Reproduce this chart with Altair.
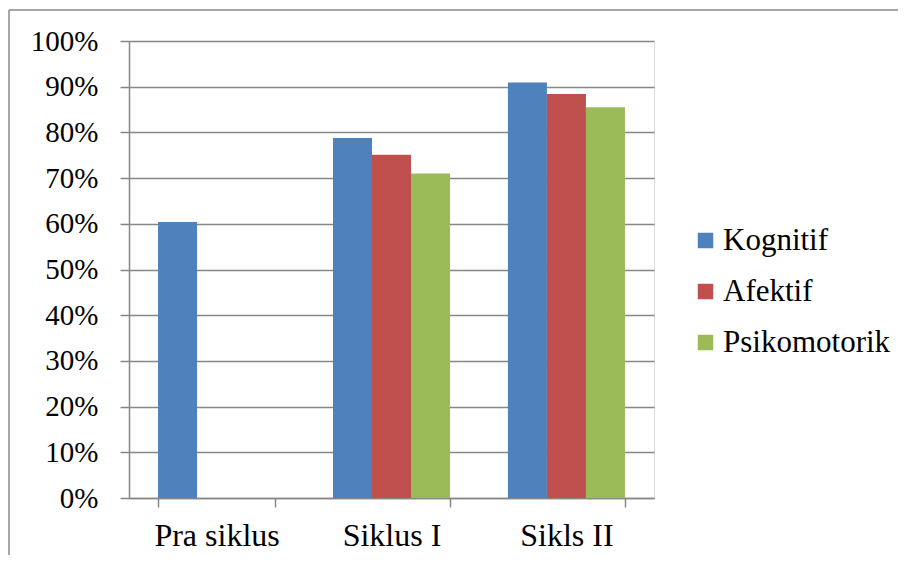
import altair as alt
import pandas as pd

categories = ["Pra siklus", "Siklus I", "Sikls II"]
series = ["Kognitif", "Afektif", "Psikomotorik"]
kognitif = [0.604, 0.788, 0.909]
afektif = [None, 0.751, 0.884]
psikomotorik = [None, 0.710, 0.855]
colors = ["#4F81BD", "#C0504D", "#9BBB59"]
y_ticks = [0, 0.1, 0.2, 0.3, 0.4, 0.5, 0.6, 0.7, 0.8, 0.9, 1.0]

rows = []
for name, vals in zip(series, [kognitif, afektif, psikomotorik]):
    for c, v in zip(categories, vals):
        if v is not None:
            rows.append({"Siklus": c, "Aspek": name, "Nilai": v})
df = pd.DataFrame(rows)

FONT = "Times New Roman, Liberation Serif, serif"
W, H = 525, 457
PL, PT = 121, 33

bars = alt.Chart(df).mark_bar().encode(
    x=alt.X("Siklus:N", sort=categories, title=None,
            scale=alt.Scale(paddingInner=0.331, paddingOuter=0.166),
            axis=alt.Axis(labelAngle=0, labelFont=FONT, labelFontSize=32,
                          labelColor="black", tickBand="extent", tickSize=9,
                          labelPadding=13, tickColor="#878787", tickWidth=1.5,
                          domainColor="#878787", domainWidth=1.5, grid=False)),
    xOffset=alt.XOffset("Aspek:N", sort=series,
                        scale=alt.Scale(paddingInner=0, paddingOuter=0)),
    y=alt.Y("Nilai:Q", title=None,
            scale=alt.Scale(domain=[0, 1], nice=False),
            axis=alt.Axis(values=y_ticks, format=".0%", labelFont=FONT,
                          labelFontSize=29, labelColor="black", tickSize=9,
                          labelPadding=22, tickColor="#878787", tickWidth=1.5,
                          domainColor="#878787", domainWidth=1.5,
                          gridColor="#878787", gridWidth=1.5, gridOpacity=1)),
    color=alt.Color("Aspek:N", sort=series,
                    scale=alt.Scale(domain=series, range=colors),
                    legend=alt.Legend(title=None, orient="none",
                                      legendX=561, legendY=184,
                                      symbolType="square", symbolSize=240,
                                      symbolStrokeWidth=0, symbolOpacity=1,
                                      labelFont=FONT, labelFontSize=31,
                                      labelColor="black", labelOffset=2,
                                      labelLimit=400,
                                      rowPadding=19, padding=0)),
)

border_df = pd.DataFrame({"k": [0]})
top_border = alt.Chart(border_df).mark_rule(color="#8a8a8a", strokeWidth=1.5).encode(
    x=alt.value(-PL + 1), x2=alt.value(890 - PL), y=alt.value(-PT + 2)
)
left_border = alt.Chart(border_df).mark_rule(color="#8a8a8a", strokeWidth=1.5).encode(
    x=alt.value(-PL + 1), y=alt.value(-PT + 2), y2=alt.value(547 - PT)
)

chart = alt.layer(bars, top_border, left_border).properties(
    width=W, height=H,
    autosize=alt.AutoSizeParams(type="none"),
    padding={"left": PL, "top": PT, "right": 890 - PL - W, "bottom": 547 - PT - H},
).configure_view(stroke=None).configure(
    background="white", font=FONT
).configure_axis(labelFont=FONT).configure_legend(labelFont=FONT, labelLimit=400)

chart.save("out.html", embed_options={"renderer": "svg", "actions": False})
